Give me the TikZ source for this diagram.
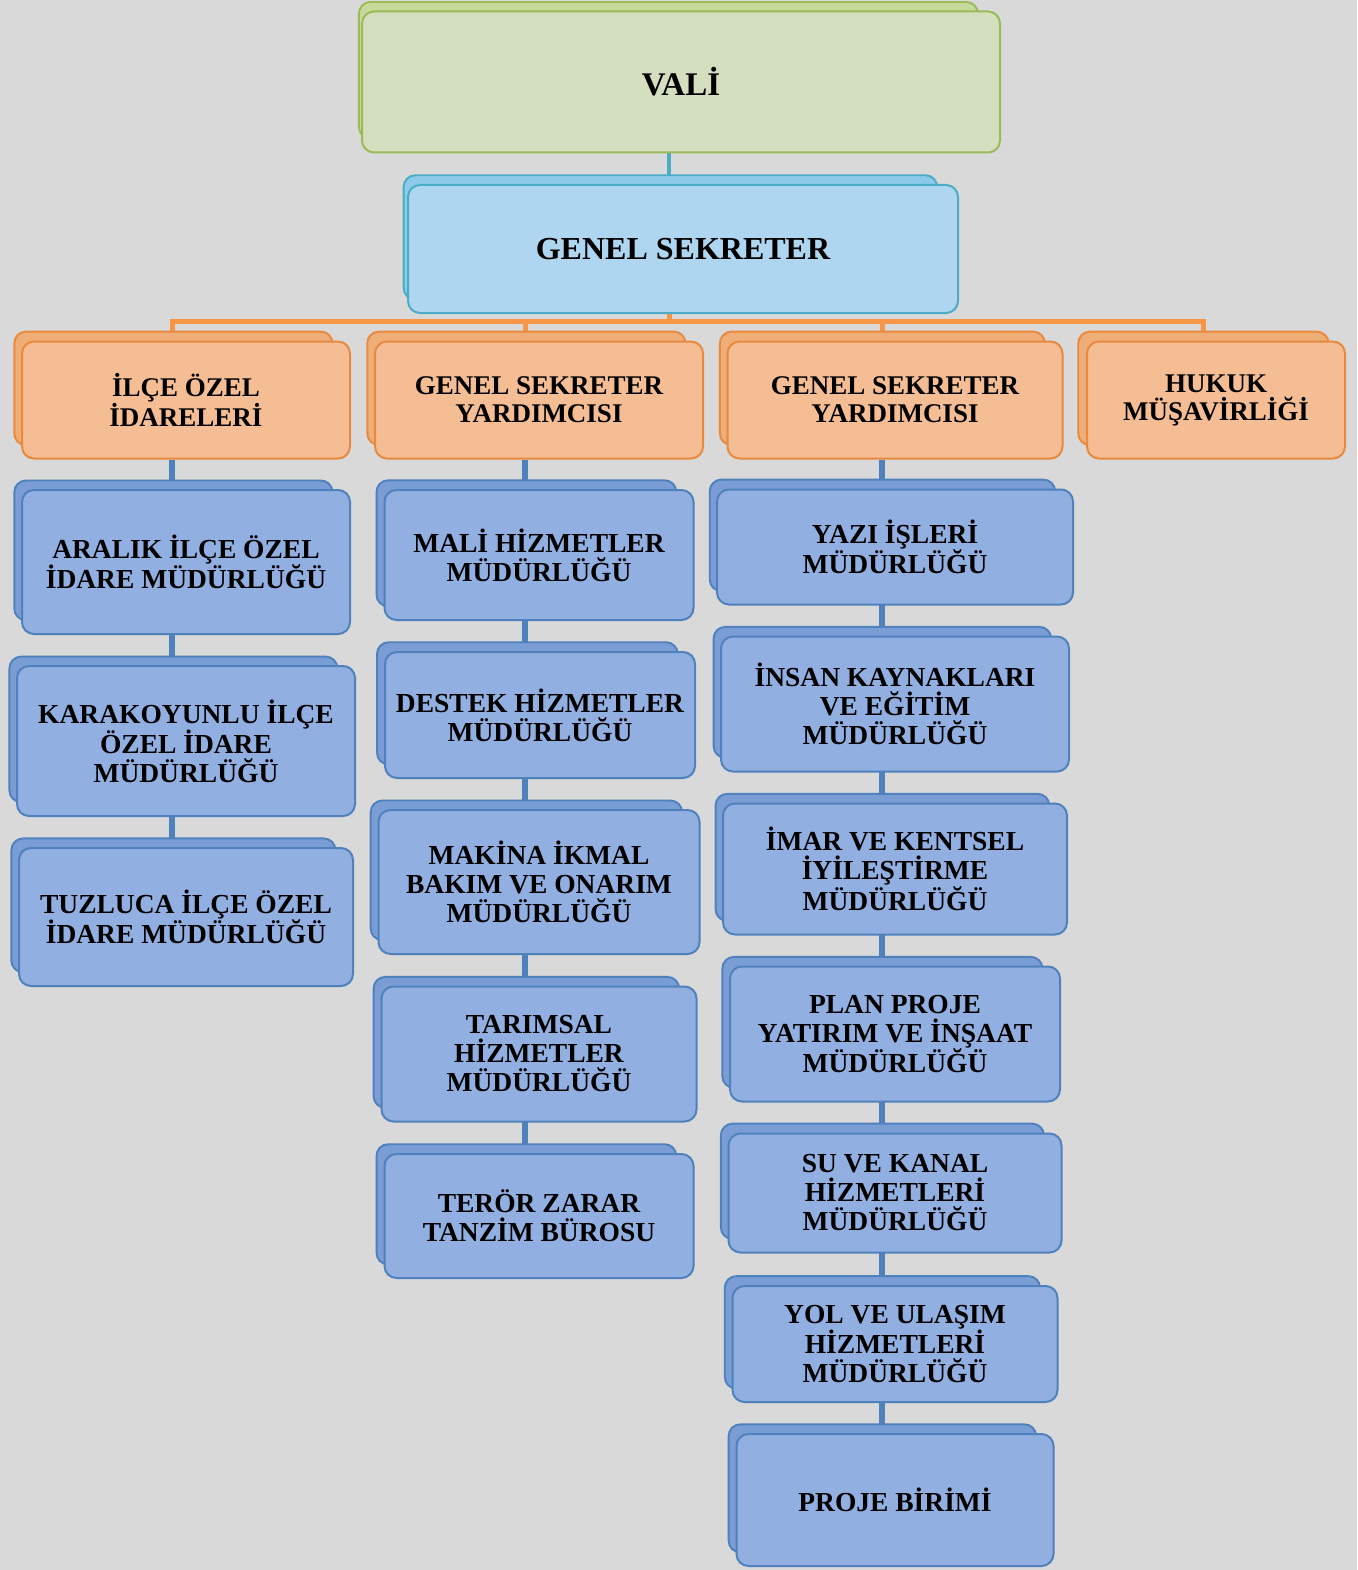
\documentclass[tikz,border=0pt]{standalone}
\usepackage{fontspec}
\setmainfont{Liberation Serif}
\usetikzlibrary{shadows,backgrounds}

\definecolor{bgGray}{HTML}{D9D9D9}
\definecolor{valiFill}{HTML}{D3DFBE}
\definecolor{valiShadow}{HTML}{C6DA9C}
\definecolor{valiLine}{HTML}{9BBB59}
\definecolor{gsFill}{HTML}{AED6F0}
\definecolor{gsShadow}{HTML}{8DCAEA}
\definecolor{gsLine}{HTML}{4BACC6}
\definecolor{orFill}{HTML}{F5BD94}
\definecolor{orShadow}{HTML}{EFAE78}
\definecolor{orLine}{HTML}{E8893E}
\definecolor{orWire}{HTML}{F79646}
\definecolor{buFill}{HTML}{92AFE1}
\definecolor{buShadow}{HTML}{7A9DD6}
\definecolor{buLine}{HTML}{4F81BD}

\tikzset{
  box/.style={draw, line width=2pt, rounded corners=12pt, align=center,
    inner sep=0pt, text=black},
  shadowed/.style={copy shadow={shadow scale=0.97, shadow xshift=-13pt,
    shadow yshift=12pt, fill=#1}},
  valibox/.style={box, fill=valiFill, draw=valiLine,
    font=\bfseries\fontsize{33}{36}\selectfont, shadowed=valiShadow},
  gsbox/.style={box, fill=gsFill, draw=gsLine,
    font=\bfseries\fontsize{32}{35}\selectfont, shadowed=gsShadow},
  orbox/.style={box, fill=orFill, draw=orLine,
    font=\bfseries\fontsize{27}{28}\selectfont, shadowed=orShadow},
  bubox/.style={box, fill=buFill, draw=buLine,
    font=\bfseries\fontsize{27.5}{29}\selectfont, shadowed=buShadow},
  tealline/.style={draw=gsLine, line width=4pt},
  orline/.style={draw=orWire, line width=5pt},
  buline/.style={draw=buLine, line width=6pt}
}

\begin{document}
\begin{tikzpicture}[x=1pt, y=-1pt]
\useasboundingbox (0,0) rectangle (1357,1570);

% top levels
\node[valibox, minimum width=638pt, minimum height=141pt] (vali) at (681,82) {VALİ};
\node[gsbox, minimum width=550pt, minimum height=128pt] (gs) at (683,249) {GENEL SEKRETER};

% second level
\node[orbox, minimum width=328pt, minimum height=117pt] (ilce) at (186,400) {İLÇE ÖZEL\\İDARELERİ};
\node[orbox, minimum width=328pt, minimum height=117pt] (gsy1) at (539,400) {GENEL SEKRETER\\YARDIMCISI};
\node[orbox, minimum width=335pt, minimum height=117pt] (gsy2) at (895,400) {GENEL SEKRETER\\YARDIMCISI};
\node[orbox, minimum width=258pt, minimum height=117pt] (hukuk) at (1216,400) {HUKUK\\MÜŞAVİRLİĞİ};

% column 1
\node[bubox, minimum width=328pt, minimum height=144pt] (aralik) at (186,562) {ARALIK İLÇE ÖZEL\\İDARE MÜDÜRLÜĞÜ};
\node[bubox, minimum width=338pt, minimum height=150pt] (karakoyunlu) at (186,741) {KARAKOYUNLU İLÇE\\ÖZEL İDARE\\MÜDÜRLÜĞÜ};
\node[bubox, minimum width=334pt, minimum height=138pt] (tuzluca) at (186,917) {TUZLUCA İLÇE ÖZEL\\İDARE MÜDÜRLÜĞÜ};

% column 2
\node[bubox, minimum width=309pt, minimum height=130pt] (mali) at (539,555) {MALİ HİZMETLER\\MÜDÜRLÜĞÜ};
\node[bubox, minimum width=310pt, minimum height=126pt] (destek) at (540,715) {DESTEK HİZMETLER\\MÜDÜRLÜĞÜ};
\node[bubox, minimum width=321pt, minimum height=144pt] (makina) at (539,882) {MAKİNA İKMAL\\BAKIM VE ONARIM\\MÜDÜRLÜĞÜ};
\node[bubox, minimum width=315pt, minimum height=135pt] (tarimsal) at (539,1054) {TARIMSAL\\HİZMETLER\\MÜDÜRLÜĞÜ};
\node[bubox, minimum width=309pt, minimum height=124pt] (teror) at (539,1216) {TERÖR ZARAR\\TANZİM BÜROSU};

% column 3
\node[bubox, minimum width=356pt, minimum height=115pt] (yazi) at (895,547) {YAZI İŞLERİ\\MÜDÜRLÜĞÜ};
\node[bubox, minimum width=348pt, minimum height=135pt] (insan) at (895,704) {İNSAN KAYNAKLARI\\VE EĞİTİM\\MÜDÜRLÜĞÜ};
\node[bubox, minimum width=344pt, minimum height=131pt] (imar) at (895,869) {İMAR VE KENTSEL\\İYİLEŞTİRME\\MÜDÜRLÜĞÜ};
\node[bubox, minimum width=330pt, minimum height=135pt] (plan) at (895,1034) {PLAN PROJE\\YATIRIM VE İNŞAAT\\MÜDÜRLÜĞÜ};
\node[bubox, minimum width=333pt, minimum height=119pt] (su) at (895,1193) {SU VE KANAL\\HİZMETLERİ\\MÜDÜRLÜĞÜ};
\node[bubox, minimum width=325pt, minimum height=116pt] (yol) at (895,1344) {YOL VE ULAŞIM\\HİZMETLERİ\\MÜDÜRLÜĞÜ};
\node[bubox, minimum width=317pt, minimum height=132pt] (proje) at (895,1500) {PROJE BİRİMİ};

% connectors
\begin{scope}[on background layer]
\fill[bgGray] (0,0) rectangle (1357,1570);
\coordinate (spine) at (669,321);
\coordinate (c1) at (172,321);
\coordinate (c2) at (525,321);
\coordinate (c3) at (882,321);
\coordinate (c4) at (1203,321);
\draw[tealline] (vali.south -| spine) -- (gs.north -| spine);
\draw[orline] (gs.south -| spine) -- (spine);
\draw[orline] (ilce.north -| c1) |- (spine) -| (hukuk.north -| c4);
\draw[orline] (c2) -- (gsy1.north -| c2);
\draw[orline] (c3) -- (gsy2.north -| c3);
\draw[buline] (ilce.south -| c1) -- (tuzluca.north -| c1);
\draw[buline] (gsy1.south -| c2) -- (teror.north -| c2);
\draw[buline] (gsy2.south -| c3) -- (proje.north -| c3);
\end{scope}
\end{tikzpicture}
\end{document}
